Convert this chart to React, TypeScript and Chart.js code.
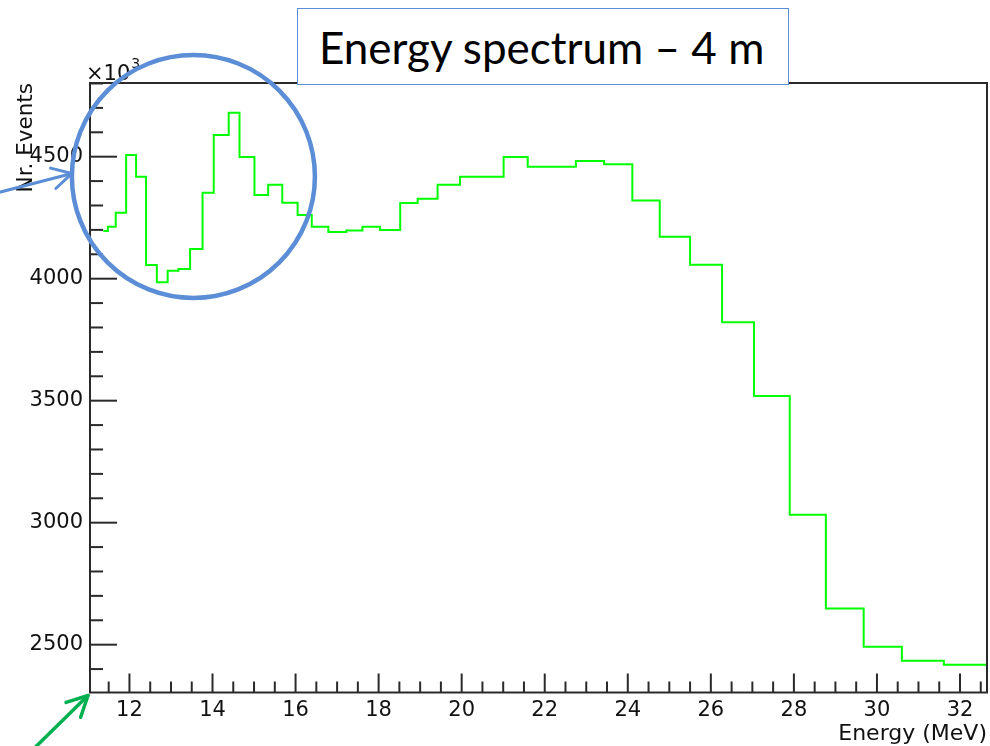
import React, { useEffect, useRef } from "react";
import { Chart, registerables } from "chart.js";

Chart.register(...registerables);

// Histogram bin edges in MeV (one more edge than bins)
const binEdges = [
  11.37, 11.48, 11.67, 11.92, 12.16, 12.4, 12.66, 12.92, 13.18, 13.46, 13.76,
  14.03, 14.39, 14.65, 15.01, 15.34, 15.68, 16.05, 16.39, 16.79, 17.22, 17.61,
  18.03, 18.52, 18.94, 19.42, 19.96, 20.49, 21.01, 21.59, 22.17, 22.75, 23.43,
  24.11, 24.77, 25.5, 26.27, 27.04, 27.9, 28.77, 29.68, 30.6, 31.61, 32.65,
];

// Entries per bin
const binCounts = [
  4195, 4213, 4270, 4507, 4418, 4056, 3985, 4033, 4040, 4122, 4352, 4589, 4680,
  4499, 4343, 4385, 4311, 4261, 4213, 4191, 4197, 4213, 4200, 4310, 4328, 4385,
  4418, 4418, 4499, 4459, 4459, 4482, 4469, 4320, 4172, 4057, 3821, 3519, 3033,
  2648, 2492, 2434, 2418,
];

const xTickValues = [12, 14, 16, 18, 20, 22, 24, 26, 28, 30, 32];
const yTickValues = [2500, 3000, 3500, 4000, 4500];
const xLimits = [11.05, 32.65];
const yLimits = [2304, 4802];
const xMinorStep = 0.5;
const yMinorStep = 100;

const heading = "Energy spectrum – 4 m";
const xLabel = "Energy (MeV)";
const yLabel = "Nr. Events";
const yExponent = "3";

// Region of interest circled on the plot (data units)
const focusCentre = { energy: 13.54, events: 4419 };
const focusRadius = 121.5;

const SANS = "'DejaVu Sans', 'Liberation Sans', sans-serif";
const INK = "#2a2a2a";
const TEXT = "#111111";
const HIST_GREEN = "#00ff00";
const NOTE_BLUE = "#5b8ed6";
const NOTE_GREEN = "#00b050";

function drawArrow(
  ctx: CanvasRenderingContext2D,
  x0: number,
  y0: number,
  x1: number,
  y1: number,
  head: number,
  spread: number
) {
  ctx.beginPath();
  ctx.moveTo(x0, y0);
  ctx.lineTo(x1, y1);
  ctx.stroke();
  const ang = Math.atan2(y1 - y0, x1 - x0);
  ctx.beginPath();
  ctx.moveTo(x1 - head * Math.cos(ang - spread), y1 - head * Math.sin(ang - spread));
  ctx.lineTo(x1, y1);
  ctx.lineTo(x1 - head * Math.cos(ang + spread), y1 - head * Math.sin(ang + spread));
  ctx.stroke();
}

// ROOT-style frame with inward ticks
const frameTicks = {
  id: "frameTicks",
  afterDatasetsDraw(chart: any) {
    const { ctx, chartArea: a, scales } = chart;
    const x = scales.x;
    const y = scales.y;
    ctx.save();
    ctx.strokeStyle = INK;
    ctx.lineWidth = 2;
    ctx.lineCap = "butt";
    const xStart = Math.ceil(xLimits[0] / xMinorStep);
    const xEnd = Math.floor(xLimits[1] / xMinorStep);
    for (let k = xStart; k <= xEnd; k++) {
      const v = k * xMinorStep;
      const px = x.getPixelForValue(v);
      const major = xTickValues.includes(v);
      const len = major ? 19 : 11;
      ctx.beginPath();
      ctx.moveTo(px, a.bottom);
      ctx.lineTo(px, a.bottom - len);
      ctx.stroke();
    }
    const yStart = Math.ceil(yLimits[0] / yMinorStep);
    const yEnd = Math.floor(yLimits[1] / yMinorStep);
    for (let k = yStart; k <= yEnd; k++) {
      const v = k * yMinorStep;
      const py = y.getPixelForValue(v);
      const major = yTickValues.includes(v);
      const len = major ? 27 : 13;
      ctx.beginPath();
      ctx.moveTo(a.left, py);
      ctx.lineTo(a.left + len, py);
      ctx.stroke();
    }
    ctx.strokeRect(a.left, a.top, a.right - a.left, a.bottom - a.top);

    // axis multiplier
    ctx.fillStyle = TEXT;
    ctx.textAlign = "left";
    ctx.textBaseline = "alphabetic";
    ctx.font = `21px ${SANS}`;
    const base = "×10";
    ctx.fillText(base, a.left - 4, a.top - 3);
    const w = ctx.measureText(base).width;
    ctx.font = `14px ${SANS}`;
    ctx.fillText(yExponent, a.left - 3 + w, a.top - 15);
    ctx.restore();
  },
};

// Hand-drawn style notes: circle round the low-energy peaks and two arrows
const notes = {
  id: "notes",
  afterDraw(chart: any) {
    const { ctx, chartArea: a, scales } = chart;
    const cx = scales.x.getPixelForValue(focusCentre.energy);
    const cy = scales.y.getPixelForValue(focusCentre.events);
    ctx.save();
    ctx.lineCap = "round";
    ctx.lineJoin = "round";
    ctx.strokeStyle = NOTE_BLUE;
    ctx.lineWidth = 4.5;
    ctx.beginPath();
    ctx.arc(cx, cy, focusRadius, 0, Math.PI * 2);
    ctx.stroke();

    ctx.lineWidth = 3;
    const tipX = cx - focusRadius;
    const tipY = cy - 3;
    drawArrow(ctx, tipX - 73, tipY + 19, tipX, tipY, 22, 0.5);

    ctx.strokeStyle = NOTE_GREEN;
    ctx.lineWidth = 3.5;
    const gx = a.left - 2;
    const gy = a.bottom + 3;
    drawArrow(ctx, gx - 52, gy + 51, gx, gy, 23, 0.47);
    ctx.restore();
  },
};

export default function App() {
  const canvasRef = useRef<HTMLCanvasElement>(null);

  useEffect(() => {
    const points = binCounts.map((c, i) => ({ x: binEdges[i], y: c }));
    points.push({
      x: binEdges[binEdges.length - 1],
      y: binCounts[binCounts.length - 1],
    });

    const chart = new Chart(canvasRef.current as HTMLCanvasElement, {
      type: "line",
      data: {
        datasets: [
          {
            data: points,
            stepped: "before",
            borderColor: HIST_GREEN,
            borderWidth: 2,
            pointRadius: 0,
            fill: false,
            tension: 0,
          },
        ],
      },
      options: {
        animation: false,
        responsive: true,
        maintainAspectRatio: false,
        layout: { padding: { left: 0, top: 83, right: 3, bottom: 0 } },
        plugins: {
          legend: { display: false },
          tooltip: { enabled: false },
          title: { display: false },
        },
        scales: {
          x: {
            type: "linear",
            min: xLimits[0],
            max: xLimits[1],
            grid: { display: false, drawTicks: false },
            border: { display: false },
            afterBuildTicks: (s: any) => {
              s.ticks = xTickValues.map((v) => ({ value: v }));
            },
            afterFit: (s: any) => {
              s.height = 53.5;
            },
            ticks: {
              font: { family: SANS, size: 21 },
              color: TEXT,
              padding: 5,
              maxRotation: 0,
              autoSkip: false,
              callback: (v: any) => String(v),
            },
            title: {
              display: true,
              text: xLabel,
              align: "end",
              color: TEXT,
              font: { family: SANS, size: 22, lineHeight: 1 },
              padding: { top: 0, bottom: 0.5 },
            },
          },
          y: {
            type: "linear",
            min: yLimits[0],
            max: yLimits[1],
            grid: { display: false, drawTicks: false },
            border: { display: false },
            afterBuildTicks: (s: any) => {
              s.ticks = yTickValues.map((v) => ({ value: v }));
            },
            afterFit: (s: any) => {
              s.width = 90;
            },
            ticks: {
              font: { family: SANS, size: 21 },
              color: TEXT,
              padding: 7,
              autoSkip: false,
              callback: (v: any) => String(v),
            },
            title: {
              display: true,
              text: yLabel,
              align: "end",
              color: TEXT,
              font: { family: SANS, size: 21.5 },
              padding: { top: 14, bottom: 0 },
            },
          },
        },
      },
      plugins: [frameTicks, notes],
    });

    return () => chart.destroy();
  }, []);

  return (
    <div
      style={{
        position: "absolute",
        left: 0,
        top: 0,
        width: 990,
        height: 746,
        background: "#ffffff",
        overflow: "hidden",
      }}
    >
      <canvas ref={canvasRef} />
      <div
        style={{
          position: "absolute",
          left: 297,
          top: 8,
          width: 492,
          height: 77,
          boxSizing: "border-box",
          border: `1.5px solid ${NOTE_BLUE}`,
          background: "#ffffff",
          display: "flex",
          alignItems: "center",
          paddingLeft: 21,
          fontFamily: "Lato, 'Open Sans', sans-serif",
          fontSize: 44,
          color: "#000000",
          whiteSpace: "nowrap",
        }}
      >
        {heading}
      </div>
    </div>
  );
}
